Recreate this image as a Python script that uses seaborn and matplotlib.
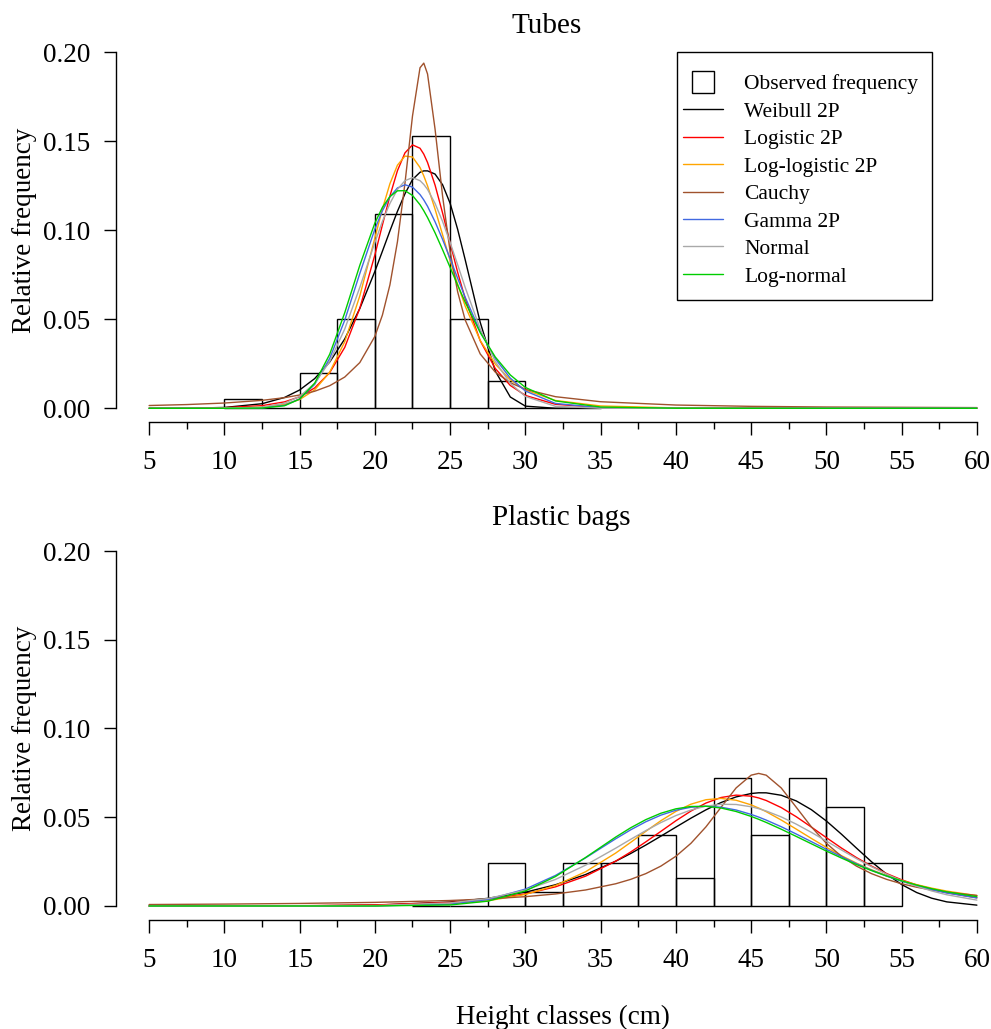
import numpy as np
import pandas as pd
import matplotlib
matplotlib.use("Agg")
import matplotlib.pyplot as plt
from matplotlib.lines import Line2D
from matplotlib.patches import Rectangle
from matplotlib.ticker import FormatStrFormatter
import seaborn as sns

# Fitted distributions, in legend / drawing order
dist_names = ["Weibull 2P", "Logistic 2P", "Log-logistic 2P", "Cauchy",
              "Gamma 2P", "Normal", "Log-normal"]
dist_colors = ["#000000", "#FF0000", "#FFA500", "#A0522D",
               "#4169E1", "#A9A9A9", "#00CD00"]

BIN_W = 2.5  # height class width (cm)

# Observed relative frequency per height class (left edge of class)
tubes_bin_left = [10, 12.5, 15, 17.5, 20, 22.5, 25, 27.5, 30, 32.5]
tubes_obs = [0.005, 0.0, 0.02, 0.05, 0.109, 0.153, 0.05, 0.0155, 0.0, 0.0]

bags_bin_left = [22.5, 25, 27.5, 30, 32.5, 35, 37.5, 40, 42.5, 45, 47.5, 50, 52.5]
bags_obs = [0.0, 0.0, 0.024, 0.008, 0.024, 0.024, 0.040, 0.016, 0.072, 0.040,
            0.072, 0.056, 0.024]

# Fitted density curves
tubes_x = [5, 7.5, 10, 12.5, 14, 15, 16, 17, 18, 19, 20, 20.5, 21, 21.5, 22, 22.5,
           23, 23.25, 23.5, 24, 24.5, 25, 25.5, 26, 27, 28, 29, 30, 32, 35, 40, 45, 50, 60]
tubes_weibull = [0.0, 0.00005, 0.00046, 0.00256, 0.00608, 0.01027, 0.01665, 0.02598,
                 0.03896, 0.05604, 0.07684, 0.08816, 0.09959, 0.11058, 0.12045, 0.12843,
                 0.13250, 0.13330, 0.13330, 0.13150, 0.12550, 0.1151, 0.10049, 0.08346,
                 0.04824, 0.02092, 0.00632, 0.00121, 0.00001, 0, 0, 0, 0, 0]
tubes_logistic = [0.00002, 0.00008, 0.00034, 0.00149, 0.00360, 0.00643, 0.01143, 0.02001,
                  0.03421, 0.0562, 0.0861, 0.1029, 0.1192, 0.1334, 0.1434, 0.1479,
                  0.1460, 0.1427, 0.1380, 0.1253, 0.1096, 0.0928, 0.0764, 0.0616,
                  0.0379, 0.02235, 0.01281, 0.00722, 0.00225, 0.00038, 0.00002, 0, 0, 0]
tubes_loglogistic = [0, 0, 0.00004, 0.00059, 0.00221, 0.00491, 0.0103, 0.0203,
                     0.0374, 0.0631, 0.0956, 0.1119, 0.1261, 0.1365, 0.1416, 0.1411,
                     0.1352, 0.1305, 0.1249, 0.1118, 0.0974, 0.0830, 0.0696, 0.0574,
                     0.0381, 0.0248, 0.0160, 0.0103, 0.00438, 0.00131, 0.00021, 0.00004,
                     0.00001, 0]
tubes_cauchy = [0.00156, 0.00209, 0.00295, 0.00445, 0.00597, 0.00746, 0.00957, 0.01269,
                0.01755, 0.02567, 0.04036, 0.0523, 0.0693, 0.0935, 0.1264, 0.1641,
                0.1912, 0.1938, 0.1877, 0.1567, 0.1191, 0.0880, 0.0654, 0.0496,
                0.0305, 0.0203, 0.01436, 0.01066, 0.00651, 0.00368, 0.00183, 0.00109,
                0.00072, 0.00038]
tubes_gamma = [0, 0, 0, 0.00019, 0.00168, 0.00528, 0.01339, 0.0280,
               0.0495, 0.0757, 0.1006, 0.1109, 0.1187, 0.1237, 0.1255, 0.1242,
               0.1200, 0.1170, 0.1134, 0.1047, 0.0948, 0.0840, 0.0730, 0.0624,
               0.0431, 0.0279, 0.0169, 0.00971, 0.00273, 0.00029, 0.00001, 0, 0, 0]
tubes_normal = [0, 0, 0.00003, 0.00067, 0.00287, 0.00667, 0.01396, 0.02629,
                0.04453, 0.0679, 0.0931, 0.1049, 0.1150, 0.1229, 0.1278, 0.1295,
                0.1278, 0.1257, 0.1229, 0.1150, 0.1049, 0.0931, 0.0806, 0.0679,
                0.04453, 0.02629, 0.01396, 0.00667, 0.00111, 0.00003, 0, 0, 0, 0]
tubes_lognormal = [0, 0, 0, 0.00011, 0.00143, 0.00517, 0.01408, 0.03035,
                   0.0537, 0.0803, 0.1040, 0.1128, 0.1189, 0.1221, 0.1222, 0.1195,
                   0.1143, 0.1109, 0.1071, 0.0985, 0.0890, 0.0791, 0.0692, 0.0596,
                   0.0425, 0.0288, 0.0187, 0.0117, 0.00413, 0.00071, 0.00003, 0, 0, 0]

bags_x = [5, 10, 15, 20, 25, 27.5, 30, 32, 34, 36, 37, 38, 39, 40, 41, 42, 43, 44,
          45, 45.5, 46, 47, 48, 49, 50, 51, 52, 53, 54, 55, 56, 57, 58, 60]
bags_weibull = [0, 0, 0.00006, 0.00047, 0.00222, 0.00429, 0.00777, 0.01196, 0.01771,
                0.02521, 0.02958, 0.03432, 0.03932, 0.04443, 0.04947, 0.05418, 0.05828,
                0.06145, 0.06337, 0.06377, 0.06375, 0.06238, 0.05919, 0.05427, 0.04788,
                0.04046, 0.03261, 0.02491, 0.01794, 0.01209, 0.00757, 0.00437, 0.00231,
                0.00047]
bags_logistic = [0.00001, 0.00005, 0.00017, 0.00059, 0.00202, 0.00373, 0.00678, 0.01079,
                 0.01679, 0.02526, 0.03043, 0.03611, 0.04202, 0.04801, 0.05348, 0.05800,
                 0.06112, 0.06246, 0.06188, 0.06088, 0.05944, 0.05543, 0.05028, 0.04447,
                 0.0385, 0.03265, 0.02726, 0.02245, 0.01828, 0.01475, 0.01182, 0.00941,
                 0.00746, 0.00463]
bags_loglogistic = [0, 0, 0.00001, 0.00014, 0.00119, 0.0029, 0.00649, 0.01156, 0.01928,
                    0.02981, 0.03586, 0.04206, 0.04803, 0.05328, 0.05735, 0.05987,
                    0.06061, 0.05958, 0.05697, 0.05518, 0.05314, 0.04843, 0.0433,
                    0.03808, 0.03304, 0.02835, 0.02413, 0.02039, 0.01715, 0.01438,
                    0.01202, 0.01004, 0.00839, 0.00585]
bags_cauchy = [0.00082, 0.00106, 0.00143, 0.00203, 0.00309, 0.00396, 0.00525, 0.00677,
               0.00901, 0.01251, 0.0150, 0.01822, 0.02245, 0.0280, 0.0353, 0.0446,
               0.0556, 0.0665, 0.0737, 0.0747, 0.0737, 0.0665, 0.0556, 0.0446,
               0.0353, 0.0280, 0.02245, 0.01822, 0.0150, 0.01251, 0.01056, 0.00901,
               0.00777, 0.00594]
bags_gamma = [0, 0, 0, 0.00003, 0.00104, 0.00363, 0.00951, 0.0172, 0.02711, 0.03785,
              0.04292, 0.04744, 0.05117, 0.05394, 0.05563, 0.0562, 0.05565, 0.05408,
              0.0516, 0.05009, 0.0484, 0.04466, 0.04054, 0.03626, 0.03196, 0.02777,
              0.02382, 0.02016, 0.01686, 0.01393, 0.01137, 0.00918, 0.00733, 0.00454]
bags_normal = [0, 0, 0.00001, 0.0002, 0.00173, 0.00419, 0.00895, 0.01495, 0.023,
               0.03256, 0.03757, 0.04245, 0.04698, 0.05093, 0.05408, 0.05625, 0.0573,
               0.05719, 0.0559, 0.05484, 0.05352, 0.05019, 0.04611, 0.04149, 0.03657,
               0.03157, 0.02669, 0.02211, 0.01794, 0.01426, 0.0111, 0.00846, 0.00632,
               0.00331]
bags_lognormal = [0, 0, 0, 0, 0.00057, 0.0027, 0.00845, 0.01659, 0.02732, 0.03882,
                  0.04408, 0.04864, 0.05224, 0.05474, 0.05605, 0.05618, 0.0552,
                  0.05324, 0.05047, 0.04884, 0.04708, 0.04326, 0.03919, 0.03505,
                  0.03095, 0.02702, 0.02333, 0.01994, 0.01689, 0.01417, 0.01179,
                  0.00973, 0.00797, 0.00524]

x_major = [5, 10, 15, 20, 25, 30, 35, 40, 45, 50, 55, 60]
x_minor = [7.5, 12.5, 17.5, 22.5, 27.5, 32.5, 37.5, 42.5, 47.5, 52.5, 57.5]
y_ticks = [0.0, 0.05, 0.10, 0.15, 0.20]

sns.set_style("ticks")
plt.rcParams["font.family"] = ["Liberation Serif", "DejaVu Serif"]
plt.rcParams["axes.linewidth"] = 1.0
for key in ["text.color", "axes.labelcolor", "axes.edgecolor", "xtick.color", "ytick.color"]:
    plt.rcParams[key] = "black"

FS = 19.5


def long_table(x, curves):
    """Stack the curves into one long frame for seaborn."""
    frames = [pd.DataFrame({"height": x, "density": y, "dist": name})
              for name, y in zip(dist_names, curves)]
    return pd.concat(frames, ignore_index=True)


def draw_panel(ax, bin_left, obs, x, curves, ylim):
    # observed frequencies as open bars
    ax.bar(bin_left, obs, width=BIN_W, align="edge", fill=False,
           edgecolor="black", linewidth=1.0, zorder=1)
    # fitted densities
    sns.lineplot(data=long_table(x, curves), x="height", y="density", hue="dist",
                 hue_order=dist_names, palette=dict(zip(dist_names, dist_colors)),
                 estimator=None, sort=False, legend=False, linewidth=1.0, ax=ax,
                 zorder=2)

    # R-like detached axes
    ax.set_xlim(2.8, 62.2)
    ax.set_ylim(*ylim)
    for side in ["top", "right"]:
        ax.spines[side].set_visible(False)
    ax.spines["left"].set_bounds(0, 0.2)
    ax.spines["bottom"].set_bounds(5, 60)
    ax.set_xticks(x_major)
    ax.set_xticks(x_minor, minor=True)
    ax.set_yticks(y_ticks)
    ax.yaxis.set_major_formatter(FormatStrFormatter("%.2f"))
    ax.tick_params(axis="x", which="major", direction="out", length=9, width=1.0,
                   labelsize=FS, pad=11)
    ax.tick_params(axis="x", which="minor", direction="out", length=5, width=1.0)
    ax.tick_params(axis="y", which="major", direction="out", length=8.5, width=1.0,
                   labelsize=FS, pad=10)
    ax.set_xlabel("")
    ax.set_ylabel("Relative frequency", fontsize=FS, labelpad=4)


fig = plt.figure(figsize=(9.91, 10.29), dpi=100)
ax_top = fig.add_axes([0.11705, 0.58989, 0.90212, 0.37318])
ax_bot = fig.add_axes([0.11705, 0.10593, 0.90212, 0.37221])

draw_panel(ax_top, tubes_bin_left, tubes_obs, tubes_x,
           [tubes_weibull, tubes_logistic, tubes_loglogistic, tubes_cauchy,
            tubes_gamma, tubes_normal, tubes_lognormal],
           (-0.0077, 0.2079))
draw_panel(ax_bot, bags_bin_left, bags_obs, bags_x,
           [bags_weibull, bags_logistic, bags_loglogistic, bags_cauchy,
            bags_gamma, bags_normal, bags_lognormal],
           (-0.0079, 0.2079))

ax_bot.set_xlabel("Height classes (cm)", fontsize=FS, labelpad=23)

fig.text(547 / 991, 1 - 33 / 1029, "Tubes", fontsize=21, ha="center", va="baseline")
fig.text(561 / 991, 1 - 525 / 1029, "Plastic bags", fontsize=21, ha="center",
         va="baseline")

# legend (top panel only): entries without frame, box drawn R-style around them
handles = [Line2D([], [], marker="s", linestyle="none", markersize=15.5,
                  markerfacecolor="none", markeredgecolor="black",
                  markeredgewidth=1.0)]
handles += [Line2D([], [], color=c, linewidth=1.0) for c in dist_colors]
labels = ["Observed frequency"] + dist_names
ax_top.legend(handles, labels, loc="upper left", bbox_to_anchor=(0.6342, 0.9063),
              borderaxespad=0, borderpad=0, fontsize=15.5, handlelength=1.86,
              handletextpad=0.975, labelspacing=0.345, frameon=False)
ax_top.add_patch(Rectangle((0.6275, 0.3177), 0.2853, 0.6458, transform=ax_top.transAxes,
                           fill=False, edgecolor="black", linewidth=1.0, zorder=5,
                           clip_on=False))

fig.savefig("out.png", dpi=100)
